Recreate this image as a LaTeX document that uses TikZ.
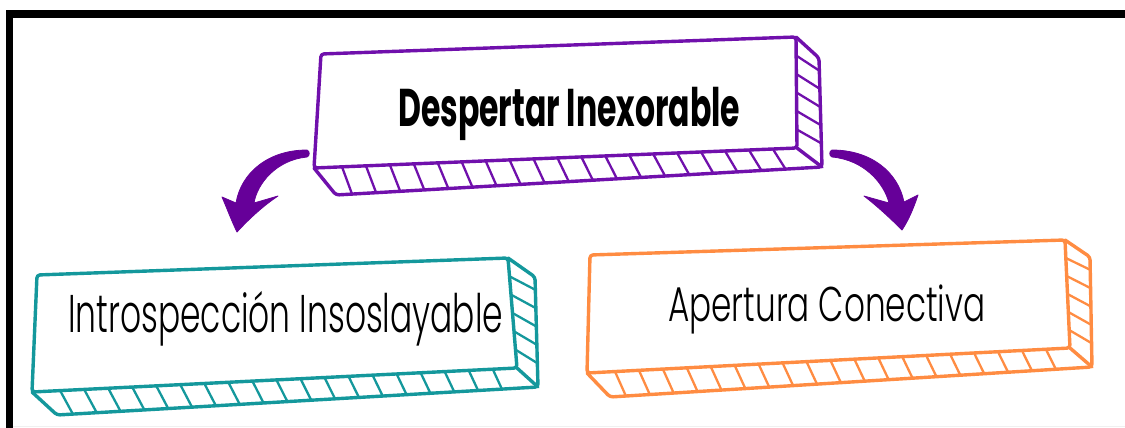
\documentclass[tikz,border=0pt]{standalone}
\usepackage{fontspec}
\usepackage{graphicx}
\setmainfont{Poppins}
\newfontfamily\thinfont{Poppins Light}
\usetikzlibrary{calc}
\definecolor{purp}{RGB}{112,16,172}
\definecolor{arrowpurp}{RGB}{102,0,153}
\definecolor{tealc}{RGB}{20,152,156}
\definecolor{orng}{RGB}{255,140,66}
\tikzset{
  outline/.style={line width=3.4pt, line join=round, line cap=round, rounded corners=3pt},
  hatch/.style={line width=2.3pt, line cap=round},
  txt/.style={anchor=base west, inner sep=0pt, text=black},
  bigarrow/.style={fill=arrowpurp, draw=arrowpurp, line width=0.8pt, line join=round},
}
\newcommand{\slabbox}[4]{%
  \draw[outline,#1] (#2tl) -- (#2tr) -- (#2br) -- (#2bl) -- cycle;
  \draw[outline,#1] (#2bl) -- (#2bb) -- (#2rb) -- (#2rt) -- (#2tr);
  \draw[outline,#1] (#2br) -- (#2rb);
  \foreach \i in {0,...,#3} {
    \pgfmathsetmacro\ta{0.058+\i*(0.95-0.058)/#3}
    \pgfmathsetmacro\tb{\ta-0.025}
    \draw[hatch,#1] ($(#2bl)!\ta!(#2br)$) -- ($(#2bb)!\tb!(#2rb)$);
  }
  \foreach \i in {1,...,#4} {
    \pgfmathsetmacro\ta{\i/(#4+1)}
    \pgfmathsetmacro\tb{\ta-0.05}
    \draw[hatch,#1] ($(#2tr)!\ta!(#2br)$) -- ($(#2rt)!\tb!(#2rb)$);
  }
}
\begin{document}
\begin{tikzpicture}[x=1pt,y=-1pt]
\useasboundingbox (0,0) rectangle (1125,428);
\fill[white] (0,0) rectangle (1125,428);
% frame
\fill[black] (6,10) rectangle (1125,18);
\fill[black] (6,10) rectangle (13,428);
\draw[black!6,line width=1.5pt] (13,426.5) -- (1125,426.5);

% purple slab
\coordinate (ptl) at (321,54);
\coordinate (ptr) at (796,37);
\coordinate (pbr) at (797,148);
\coordinate (pbl) at (314,168);
\coordinate (prt) at (819,58);
\coordinate (prb) at (822,167);
\coordinate (pbb) at (336,195);
\slabbox{purp}{p}{18}{5}
\node[txt] (top) at (398,126) {\resizebox{342pt}{37pt}{\smash{\bfseries Despertar Inexorable}\vphantom{I}}};

% teal slab
\coordinate (ttl) at (37,275);
\coordinate (ttr) at (508,258);
\coordinate (tbr) at (517,368);
\coordinate (tbl) at (32,392);
\coordinate (trt) at (535,277);
\coordinate (trb) at (538,387);
\coordinate (tbb) at (57,415);
\slabbox{tealc}{t}{18}{5}
\node[txt] (left) at (68,332) {\resizebox{435pt}{37pt}{\smash{\thinfont Introspección Insoslayable}\vphantom{I}}};

% orange slab
\coordinate (otl) at (590,255);
\coordinate (otr) at (1065,240);
\coordinate (obr) at (1070,348);
\coordinate (obl) at (587,373);
\coordinate (ort) at (1090,257);
\coordinate (orb) at (1092,367);
\coordinate (obb) at (610,397);
\slabbox{orng}{o}{18}{5}
\node[txt] (right) at (668,321) {\resizebox{317pt}{34pt}{\smash{\thinfont Apertura Conectiva}\vphantom{I}}};

% arrows
\coordinate (la) at (307,150);
\coordinate (ra) at (832,150);
\fill[bigarrow] (la) .. controls (268,150) and (241,173) .. (236,203)
  -- (222,197) .. controls (228,211) and (232,222) .. (237,232)
  .. controls (249,219) and (263,206) .. (278,196)
  -- (254,203) .. controls (257,184) and (276,160) .. (307,157)
  .. controls (310,156) and (310,151) .. (la) -- cycle;
\fill[bigarrow] (ra) .. controls (871,150) and (898,172) .. (904,202)
  -- (918,195) .. controls (913,210) and (908,221) .. (902,230)
  .. controls (890,218) and (877,206) .. (864,196)
  -- (889,203) .. controls (884,183) and (864,160) .. (832,157)
  .. controls (829,156) and (829,151) .. (ra) -- cycle;
\end{tikzpicture}
\end{document}
